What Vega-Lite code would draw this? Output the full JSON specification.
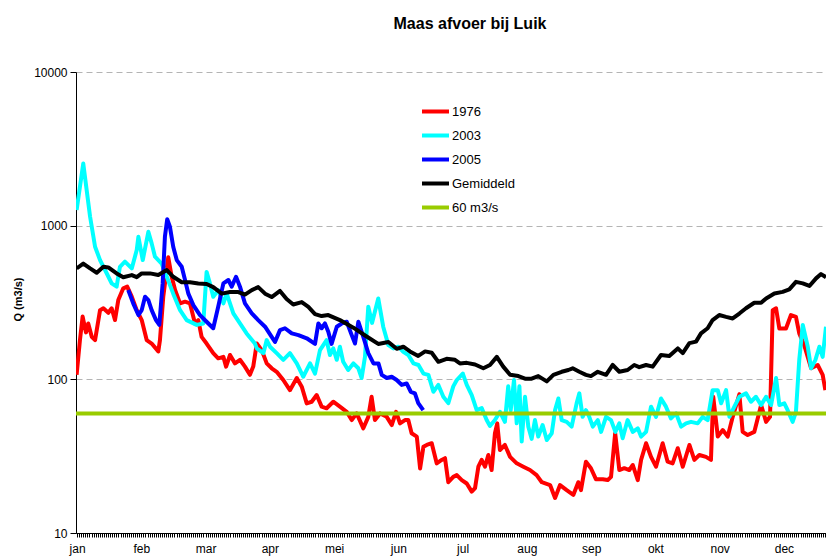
{
  "$schema": "https://vega.github.io/schema/vega-lite/v6.json",
  "autosize": {"type": "none"},
  "width": 750,
  "height": 461,
  "padding": {"left": 76, "top": 72, "right": 0, "bottom": 26},
  "background": "white",
  "title": {"text": "Maas afvoer bij Luik", "anchor": "middle", "frame": "group", "dx": 19, "offset": 34, "fontSize": 16, "fontWeight": "bold", "font": "Liberation Sans", "color": "black"},
  "config": {
    "view": {"stroke": null},
    "font": "Liberation Sans"
  },
  "datasets": {
    "rows": [
      {"serie":"1976","dag":0.8,"Q":107},{"serie":"1976","dag":2.4,"Q":180},{"serie":"1976","dag":3.7,"Q":256},{"serie":"1976","dag":5.3,"Q":202},{"serie":"1976","dag":6.4,"Q":231},{"serie":"1976","dag":8.1,"Q":189},{"serie":"1976","dag":9.7,"Q":180},{"serie":"1976","dag":12.1,"Q":282},{"serie":"1976","dag":13.7,"Q":290},{"serie":"1976","dag":16.1,"Q":271},{"serie":"1976","dag":17.7,"Q":290},{"serie":"1976","dag":19.3,"Q":243},{"serie":"1976","dag":20.9,"Q":328},{"serie":"1976","dag":23.3,"Q":391},{"serie":"1976","dag":25.2,"Q":401},{"serie":"1976","dag":27.4,"Q":345},{"serie":"1976","dag":29.8,"Q":282},{"serie":"1976","dag":32.2,"Q":243},{"serie":"1976","dag":34.6,"Q":180},{"serie":"1976","dag":37.0,"Q":171},{"serie":"1976","dag":40.2,"Q":152},{"serie":"1976","dag":41.0,"Q":180},{"serie":"1976","dag":42.6,"Q":345},{"serie":"1976","dag":45.0,"Q":622},{"serie":"1976","dag":46.7,"Q":463},{"serie":"1976","dag":48.3,"Q":381},{"serie":"1976","dag":50.7,"Q":312},{"serie":"1976","dag":53.1,"Q":320},{"serie":"1976","dag":55.5,"Q":312},{"serie":"1976","dag":57.9,"Q":231},{"serie":"1976","dag":59.5,"Q":243},{"serie":"1976","dag":61.1,"Q":189},{"serie":"1976","dag":63.5,"Q":171},{"serie":"1976","dag":66.7,"Q":148},{"serie":"1976","dag":69.1,"Q":137},{"serie":"1976","dag":71.6,"Q":140},{"serie":"1976","dag":72.9,"Q":121},{"serie":"1976","dag":74.8,"Q":144},{"serie":"1976","dag":77.2,"Q":127},{"serie":"1976","dag":79.6,"Q":134},{"serie":"1976","dag":82.0,"Q":121},{"serie":"1976","dag":84.4,"Q":107},{"serie":"1976","dag":86.0,"Q":121},{"serie":"1976","dag":87.7,"Q":171},{"serie":"1976","dag":90.1,"Q":155},{"serie":"1976","dag":92.5,"Q":127},{"serie":"1976","dag":94.9,"Q":118},{"serie":"1976","dag":97.3,"Q":112},{"serie":"1976","dag":100.5,"Q":99},{"serie":"1976","dag":103.7,"Q":85},{"serie":"1976","dag":107.0,"Q":102},{"serie":"1976","dag":109.4,"Q":89.6},{"serie":"1976","dag":111.8,"Q":69.8},{"serie":"1976","dag":114.2,"Q":71.5},{"serie":"1976","dag":116.6,"Q":79},{"serie":"1976","dag":119.0,"Q":66.4},{"serie":"1976","dag":121.4,"Q":64.8},{"serie":"1976","dag":124.6,"Q":71.5},{"serie":"1976","dag":127.8,"Q":66.4},{"serie":"1976","dag":131.1,"Q":61.5},{"serie":"1976","dag":133.5,"Q":54.3},{"serie":"1976","dag":135.9,"Q":60},{"serie":"1976","dag":139.1,"Q":48},{"serie":"1976","dag":141.5,"Q":57},{"serie":"1976","dag":143.1,"Q":77},{"serie":"1976","dag":144.7,"Q":54.3},{"serie":"1976","dag":147.2,"Q":60},{"serie":"1976","dag":150.4,"Q":57},{"serie":"1976","dag":152.8,"Q":50.4},{"serie":"1976","dag":154.9,"Q":61.5},{"serie":"1976","dag":156.8,"Q":51.7},{"serie":"1976","dag":159.2,"Q":54.3},{"serie":"1976","dag":160.8,"Q":54.3},{"serie":"1976","dag":162.4,"Q":44.6},{"serie":"1976","dag":164.9,"Q":42.4},{"serie":"1976","dag":166.5,"Q":26.3},{"serie":"1976","dag":168.1,"Q":36.4},{"serie":"1976","dag":169.7,"Q":37.4},{"serie":"1976","dag":172.1,"Q":38.4},{"serie":"1976","dag":174.5,"Q":28.4},{"serie":"1976","dag":176.9,"Q":29.9},{"serie":"1976","dag":178.5,"Q":30.7},{"serie":"1976","dag":180.1,"Q":21.4},{"serie":"1976","dag":182.5,"Q":23.2},{"serie":"1976","dag":184.2,"Q":23.8},{"serie":"1976","dag":186.6,"Q":22.1},{"serie":"1976","dag":189.0,"Q":21.0},{"serie":"1976","dag":191.4,"Q":18.6},{"serie":"1976","dag":193.0,"Q":19.6},{"serie":"1976","dag":194.6,"Q":27},{"serie":"1976","dag":196.2,"Q":29.9},{"serie":"1976","dag":197.8,"Q":27},{"serie":"1976","dag":199.4,"Q":32.2},{"serie":"1976","dag":201.0,"Q":25.7},{"serie":"1976","dag":202.6,"Q":44.6},{"serie":"1976","dag":203.7,"Q":51.7},{"serie":"1976","dag":205.0,"Q":34.7},{"serie":"1976","dag":207.4,"Q":37.4},{"serie":"1976","dag":209.9,"Q":31.3},{"serie":"1976","dag":213.1,"Q":28.4},{"serie":"1976","dag":216.3,"Q":27},{"serie":"1976","dag":219.5,"Q":25.7},{"serie":"1976","dag":222.7,"Q":23.8},{"serie":"1976","dag":225.2,"Q":21.4},{"serie":"1976","dag":229.2,"Q":20.5},{"serie":"1976","dag":231.6,"Q":16.9},{"serie":"1976","dag":234.0,"Q":20.5},{"serie":"1976","dag":237.2,"Q":19.0},{"serie":"1976","dag":240.4,"Q":17.7},{"serie":"1976","dag":242.8,"Q":21.4},{"serie":"1976","dag":244.1,"Q":19.0},{"serie":"1976","dag":246.5,"Q":29.1},{"serie":"1976","dag":248.9,"Q":26.4},{"serie":"1976","dag":251.3,"Q":22.4},{"serie":"1976","dag":254.6,"Q":22.4},{"serie":"1976","dag":257.0,"Q":22.1},{"serie":"1976","dag":258.6,"Q":23.2},{"serie":"1976","dag":260.6,"Q":44.6},{"serie":"1976","dag":262.6,"Q":25.7},{"serie":"1976","dag":265.0,"Q":26.4},{"serie":"1976","dag":267.4,"Q":25.7},{"serie":"1976","dag":269.1,"Q":27.7},{"serie":"1976","dag":271.5,"Q":22.1},{"serie":"1976","dag":273.1,"Q":29.9},{"serie":"1976","dag":275.5,"Q":38.4},{"serie":"1976","dag":277.9,"Q":31.3},{"serie":"1976","dag":280.3,"Q":27},{"serie":"1976","dag":283.5,"Q":38.4},{"serie":"1976","dag":285.9,"Q":29.1},{"serie":"1976","dag":288.3,"Q":28.4},{"serie":"1976","dag":290.8,"Q":35.6},{"serie":"1976","dag":293.2,"Q":27},{"serie":"1976","dag":296.4,"Q":37.4},{"serie":"1976","dag":298.8,"Q":29.9},{"serie":"1976","dag":301.2,"Q":32.2},{"serie":"1976","dag":304.4,"Q":31.3},{"serie":"1976","dag":306.8,"Q":29.9},{"serie":"1976","dag":307.9,"Q":77},{"serie":"1976","dag":310.1,"Q":42.4},{"serie":"1976","dag":312.5,"Q":46.8},{"serie":"1976","dag":314.9,"Q":42.4},{"serie":"1976","dag":317.3,"Q":57},{"serie":"1976","dag":320.5,"Q":80},{"serie":"1976","dag":322.1,"Q":45.5},{"serie":"1976","dag":324.5,"Q":43.4},{"serie":"1976","dag":327.7,"Q":45.5},{"serie":"1976","dag":331.0,"Q":68},{"serie":"1976","dag":333.4,"Q":52.9},{"serie":"1976","dag":335.3,"Q":57},{"serie":"1976","dag":336.6,"Q":282},{"serie":"1976","dag":338.2,"Q":290},{"serie":"1976","dag":339.8,"Q":214},{"serie":"1976","dag":343.0,"Q":214},{"serie":"1976","dag":345.4,"Q":262},{"serie":"1976","dag":347.8,"Q":255},{"serie":"1976","dag":349.4,"Q":199},{"serie":"1976","dag":351.8,"Q":167},{"serie":"1976","dag":355.1,"Q":118},{"serie":"1976","dag":358.3,"Q":124},{"serie":"1976","dag":360.7,"Q":107},{"serie":"1976","dag":362.0,"Q":85},

      {"serie":"2003","dag":0.8,"Q":1263},{"serie":"2003","dag":4.0,"Q":2540},{"serie":"2003","dag":7.3,"Q":1143},{"serie":"2003","dag":9.7,"Q":729},{"serie":"2003","dag":12.1,"Q":597},{"serie":"2003","dag":15.3,"Q":490},{"serie":"2003","dag":17.7,"Q":421},{"serie":"2003","dag":20.1,"Q":401},{"serie":"2003","dag":21.7,"Q":540},{"serie":"2003","dag":24.1,"Q":583},{"serie":"2003","dag":27.4,"Q":527},{"serie":"2003","dag":29.8,"Q":694},{"serie":"2003","dag":30.6,"Q":846},{"serie":"2003","dag":32.7,"Q":597},{"serie":"2003","dag":35.4,"Q":912},{"serie":"2003","dag":37.0,"Q":767},{"serie":"2003","dag":38.6,"Q":628},{"serie":"2003","dag":41.8,"Q":567},{"serie":"2003","dag":44.3,"Q":465},{"serie":"2003","dag":47.4,"Q":361},{"serie":"2003","dag":50.7,"Q":282},{"serie":"2003","dag":53.9,"Q":243},{"serie":"2003","dag":58.7,"Q":226},{"serie":"2003","dag":61.9,"Q":231},{"serie":"2003","dag":63.5,"Q":500},{"serie":"2003","dag":65.1,"Q":421},{"serie":"2003","dag":66.7,"Q":345},{"serie":"2003","dag":69.1,"Q":381},{"serie":"2003","dag":71.6,"Q":312},{"serie":"2003","dag":73.2,"Q":361},{"serie":"2003","dag":76.4,"Q":269},{"serie":"2003","dag":79.6,"Q":231},{"serie":"2003","dag":82.8,"Q":199},{"serie":"2003","dag":86.8,"Q":171},{"serie":"2003","dag":87.7,"Q":159},{"serie":"2003","dag":90.9,"Q":148},{"serie":"2003","dag":92.5,"Q":180},{"serie":"2003","dag":94.1,"Q":163},{"serie":"2003","dag":97.3,"Q":148},{"serie":"2003","dag":100.5,"Q":134},{"serie":"2003","dag":103.7,"Q":148},{"serie":"2003","dag":107.0,"Q":127},{"serie":"2003","dag":110.1,"Q":104},{"serie":"2003","dag":113.4,"Q":127},{"serie":"2003","dag":115.8,"Q":109},{"serie":"2003","dag":118.2,"Q":155},{"serie":"2003","dag":121.4,"Q":180},{"serie":"2003","dag":123.0,"Q":144},{"serie":"2003","dag":124.6,"Q":159},{"serie":"2003","dag":126.3,"Q":134},{"serie":"2003","dag":127.8,"Q":163},{"serie":"2003","dag":129.4,"Q":130},{"serie":"2003","dag":131.8,"Q":115},{"serie":"2003","dag":134.3,"Q":127},{"serie":"2003","dag":136.7,"Q":118},{"serie":"2003","dag":138.3,"Q":102},{"serie":"2003","dag":139.9,"Q":140},{"serie":"2003","dag":141.5,"Q":297},{"serie":"2003","dag":143.3,"Q":233},{"serie":"2003","dag":146.3,"Q":336},{"serie":"2003","dag":148.7,"Q":220},{"serie":"2003","dag":151.2,"Q":167},{"serie":"2003","dag":153.6,"Q":159},{"serie":"2003","dag":156.0,"Q":163},{"serie":"2003","dag":158.4,"Q":151},{"serie":"2003","dag":160.8,"Q":144},{"serie":"2003","dag":163.3,"Q":127},{"serie":"2003","dag":165.7,"Q":124},{"serie":"2003","dag":168.1,"Q":109},{"serie":"2003","dag":170.5,"Q":107},{"serie":"2003","dag":172.9,"Q":83},{"serie":"2003","dag":175.3,"Q":92},{"serie":"2003","dag":177.7,"Q":77},{"serie":"2003","dag":180.1,"Q":70},{"serie":"2003","dag":182.5,"Q":90},{"serie":"2003","dag":184.2,"Q":99},{"serie":"2003","dag":187.1,"Q":109},{"serie":"2003","dag":189.0,"Q":92},{"serie":"2003","dag":191.4,"Q":79},{"serie":"2003","dag":193.8,"Q":63},{"serie":"2003","dag":196.2,"Q":65},{"serie":"2003","dag":198.6,"Q":54.3},{"serie":"2003","dag":200.2,"Q":49.7},{"serie":"2003","dag":202.6,"Q":54.3},{"serie":"2003","dag":205.0,"Q":61.5},{"serie":"2003","dag":207.4,"Q":52.9},{"serie":"2003","dag":209.0,"Q":90},{"serie":"2003","dag":210.2,"Q":63},{"serie":"2003","dag":211.8,"Q":99},{"serie":"2003","dag":213.1,"Q":51.7},{"serie":"2003","dag":214.4,"Q":90},{"serie":"2003","dag":215.5,"Q":39.4},{"serie":"2003","dag":217.1,"Q":77},{"serie":"2003","dag":218.7,"Q":49.2},{"serie":"2003","dag":220.3,"Q":41.0},{"serie":"2003","dag":221.9,"Q":54.3},{"serie":"2003","dag":223.5,"Q":42.4},{"serie":"2003","dag":225.6,"Q":50.4},{"serie":"2003","dag":227.6,"Q":40.3},{"serie":"2003","dag":230.0,"Q":44.6},{"serie":"2003","dag":231.6,"Q":63},{"serie":"2003","dag":233.2,"Q":75},{"serie":"2003","dag":234.8,"Q":54.3},{"serie":"2003","dag":237.2,"Q":52.9},{"serie":"2003","dag":239.6,"Q":49.2},{"serie":"2003","dag":242.0,"Q":69.8},{"serie":"2003","dag":243.3,"Q":81},{"serie":"2003","dag":244.9,"Q":57},{"serie":"2003","dag":246.5,"Q":63},{"serie":"2003","dag":248.1,"Q":57},{"serie":"2003","dag":249.8,"Q":49.2},{"serie":"2003","dag":252.2,"Q":54.3},{"serie":"2003","dag":253.8,"Q":45.5},{"serie":"2003","dag":256.2,"Q":57},{"serie":"2003","dag":258.6,"Q":54.3},{"serie":"2003","dag":260.7,"Q":45.5},{"serie":"2003","dag":262.6,"Q":51.7},{"serie":"2003","dag":264.2,"Q":41.4},{"serie":"2003","dag":266.6,"Q":54.3},{"serie":"2003","dag":269.1,"Q":45.5},{"serie":"2003","dag":271.5,"Q":48},{"serie":"2003","dag":273.1,"Q":42.4},{"serie":"2003","dag":275.5,"Q":45.5},{"serie":"2003","dag":277.9,"Q":66.4},{"serie":"2003","dag":280.3,"Q":57},{"serie":"2003","dag":282.7,"Q":75},{"serie":"2003","dag":285.1,"Q":66.4},{"serie":"2003","dag":287.5,"Q":55.7},{"serie":"2003","dag":290.0,"Q":60},{"serie":"2003","dag":292.4,"Q":49.2},{"serie":"2003","dag":294.8,"Q":51.7},{"serie":"2003","dag":297.2,"Q":52.9},{"serie":"2003","dag":300.4,"Q":51.7},{"serie":"2003","dag":302.8,"Q":57},{"serie":"2003","dag":305.2,"Q":54.3},{"serie":"2003","dag":307.6,"Q":85},{"serie":"2003","dag":310.1,"Q":85},{"serie":"2003","dag":311.7,"Q":69.8},{"serie":"2003","dag":314.1,"Q":85},{"serie":"2003","dag":315.7,"Q":57},{"serie":"2003","dag":318.1,"Q":66.4},{"serie":"2003","dag":320.5,"Q":77},{"serie":"2003","dag":323.7,"Q":81},{"serie":"2003","dag":326.1,"Q":71.5},{"serie":"2003","dag":328.5,"Q":77},{"serie":"2003","dag":331.0,"Q":68},{"serie":"2003","dag":333.4,"Q":77},{"serie":"2003","dag":335.8,"Q":68},{"serie":"2003","dag":338.2,"Q":102},{"serie":"2003","dag":339.8,"Q":68},{"serie":"2003","dag":342.2,"Q":69.8},{"serie":"2003","dag":343.8,"Q":63},{"serie":"2003","dag":346.2,"Q":52.9},{"serie":"2003","dag":347.8,"Q":61.5},{"serie":"2003","dag":349.4,"Q":134},{"serie":"2003","dag":351.1,"Q":226},{"serie":"2003","dag":353.5,"Q":163},{"serie":"2003","dag":355.1,"Q":118},{"serie":"2003","dag":357.2,"Q":134},{"serie":"2003","dag":359.1,"Q":163},{"serie":"2003","dag":360.7,"Q":140},{"serie":"2003","dag":362.3,"Q":220},

      {"serie":"2005","dag":25.7,"Q":381},{"serie":"2005","dag":28.1,"Q":312},{"serie":"2005","dag":30.6,"Q":262},{"serie":"2005","dag":32.2,"Q":282},{"serie":"2005","dag":33.8,"Q":345},{"serie":"2005","dag":35.4,"Q":328},{"serie":"2005","dag":37.0,"Q":282},{"serie":"2005","dag":39.1,"Q":243},{"serie":"2005","dag":40.7,"Q":226},{"serie":"2005","dag":42.3,"Q":421},{"serie":"2005","dag":43.4,"Q":850},{"serie":"2005","dag":44.5,"Q":1102},{"serie":"2005","dag":45.8,"Q":985},{"serie":"2005","dag":47.4,"Q":729},{"serie":"2005","dag":49.1,"Q":597},{"serie":"2005","dag":51.5,"Q":540},{"serie":"2005","dag":53.1,"Q":443},{"serie":"2005","dag":54.7,"Q":361},{"serie":"2005","dag":57.1,"Q":304},{"serie":"2005","dag":60.3,"Q":262},{"serie":"2005","dag":63.5,"Q":237},{"serie":"2005","dag":66.7,"Q":215},{"serie":"2005","dag":69.1,"Q":297},{"serie":"2005","dag":71.6,"Q":421},{"serie":"2005","dag":74.0,"Q":443},{"serie":"2005","dag":75.6,"Q":401},{"serie":"2005","dag":77.7,"Q":465},{"serie":"2005","dag":79.6,"Q":401},{"serie":"2005","dag":82.0,"Q":312},{"serie":"2005","dag":85.3,"Q":269},{"serie":"2005","dag":88.4,"Q":243},{"serie":"2005","dag":91.7,"Q":220},{"serie":"2005","dag":94.9,"Q":189},{"serie":"2005","dag":96.5,"Q":175},{"serie":"2005","dag":98.9,"Q":209},{"serie":"2005","dag":101.3,"Q":215},{"serie":"2005","dag":104.6,"Q":199},{"serie":"2005","dag":107.8,"Q":194},{"serie":"2005","dag":111.8,"Q":185},{"serie":"2005","dag":115.8,"Q":170},{"serie":"2005","dag":117.4,"Q":231},{"serie":"2005","dag":119.0,"Q":215},{"serie":"2005","dag":120.6,"Q":231},{"serie":"2005","dag":122.2,"Q":204},{"serie":"2005","dag":123.8,"Q":170},{"serie":"2005","dag":126.3,"Q":220},{"serie":"2005","dag":128.7,"Q":231},{"serie":"2005","dag":131.1,"Q":237},{"serie":"2005","dag":133.5,"Q":194},{"serie":"2005","dag":135.1,"Q":171},{"serie":"2005","dag":136.7,"Q":237},{"serie":"2005","dag":139.1,"Q":189},{"serie":"2005","dag":141.5,"Q":148},{"serie":"2005","dag":144.0,"Q":127},{"serie":"2005","dag":146.4,"Q":127},{"serie":"2005","dag":148.0,"Q":107},{"serie":"2005","dag":150.4,"Q":102},{"serie":"2005","dag":152.8,"Q":104},{"serie":"2005","dag":155.2,"Q":99},{"serie":"2005","dag":157.6,"Q":92},{"serie":"2005","dag":160.0,"Q":94},{"serie":"2005","dag":162.0,"Q":83},{"serie":"2005","dag":164.0,"Q":81},{"serie":"2005","dag":165.6,"Q":70},{"serie":"2005","dag":168.0,"Q":63},

      {"serie":"Gemiddeld","dag":0.8,"Q":527},{"serie":"Gemiddeld","dag":4.0,"Q":567},{"serie":"Gemiddeld","dag":7.3,"Q":527},{"serie":"Gemiddeld","dag":10.5,"Q":494},{"serie":"Gemiddeld","dag":13.7,"Q":540},{"serie":"Gemiddeld","dag":16.1,"Q":535},{"serie":"Gemiddeld","dag":20.1,"Q":489},{"serie":"Gemiddeld","dag":23.3,"Q":462},{"serie":"Gemiddeld","dag":27.4,"Q":477},{"serie":"Gemiddeld","dag":29.8,"Q":462},{"serie":"Gemiddeld","dag":32.2,"Q":489},{"serie":"Gemiddeld","dag":36.2,"Q":489},{"serie":"Gemiddeld","dag":40.2,"Q":477},{"serie":"Gemiddeld","dag":44.3,"Q":514},{"serie":"Gemiddeld","dag":47.4,"Q":465},{"serie":"Gemiddeld","dag":51.5,"Q":428},{"serie":"Gemiddeld","dag":55.5,"Q":428},{"serie":"Gemiddeld","dag":59.5,"Q":421},{"serie":"Gemiddeld","dag":63.5,"Q":417},{"serie":"Gemiddeld","dag":66.7,"Q":398},{"serie":"Gemiddeld","dag":70.8,"Q":361},{"serie":"Gemiddeld","dag":74.8,"Q":370},{"serie":"Gemiddeld","dag":78.8,"Q":370},{"serie":"Gemiddeld","dag":82.0,"Q":356},{"serie":"Gemiddeld","dag":85.3,"Q":381},{"serie":"Gemiddeld","dag":88.4,"Q":398},{"serie":"Gemiddeld","dag":91.7,"Q":361},{"serie":"Gemiddeld","dag":94.9,"Q":343},{"serie":"Gemiddeld","dag":98.9,"Q":376},{"serie":"Gemiddeld","dag":102.1,"Q":333},{"serie":"Gemiddeld","dag":105.3,"Q":307},{"serie":"Gemiddeld","dag":109.4,"Q":318},{"serie":"Gemiddeld","dag":112.6,"Q":296},{"serie":"Gemiddeld","dag":115.8,"Q":266},{"serie":"Gemiddeld","dag":119.0,"Q":258},{"serie":"Gemiddeld","dag":122.2,"Q":262},{"serie":"Gemiddeld","dag":127.8,"Q":243},{"serie":"Gemiddeld","dag":134.3,"Q":217},{"serie":"Gemiddeld","dag":140.7,"Q":190},{"serie":"Gemiddeld","dag":146.3,"Q":170},{"serie":"Gemiddeld","dag":151.2,"Q":175},{"serie":"Gemiddeld","dag":155.2,"Q":158},{"serie":"Gemiddeld","dag":158.4,"Q":163},{"serie":"Gemiddeld","dag":161.6,"Q":152},{"serie":"Gemiddeld","dag":165.6,"Q":142},{"serie":"Gemiddeld","dag":168.9,"Q":152},{"serie":"Gemiddeld","dag":172.1,"Q":149},{"serie":"Gemiddeld","dag":175.3,"Q":130},{"serie":"Gemiddeld","dag":179.3,"Q":136},{"serie":"Gemiddeld","dag":183.3,"Q":134},{"serie":"Gemiddeld","dag":185.7,"Q":127},{"serie":"Gemiddeld","dag":189.0,"Q":128},{"serie":"Gemiddeld","dag":193.0,"Q":125},{"serie":"Gemiddeld","dag":197.0,"Q":118},{"serie":"Gemiddeld","dag":200.2,"Q":124},{"serie":"Gemiddeld","dag":203.5,"Q":140},{"serie":"Gemiddeld","dag":206.6,"Q":121},{"serie":"Gemiddeld","dag":209.9,"Q":107},{"serie":"Gemiddeld","dag":213.9,"Q":105},{"serie":"Gemiddeld","dag":217.1,"Q":101},{"serie":"Gemiddeld","dag":220.3,"Q":101},{"serie":"Gemiddeld","dag":223.5,"Q":105},{"serie":"Gemiddeld","dag":227.6,"Q":97},{"serie":"Gemiddeld","dag":230.8,"Q":107},{"serie":"Gemiddeld","dag":234.8,"Q":112},{"serie":"Gemiddeld","dag":238.0,"Q":115},{"serie":"Gemiddeld","dag":240.1,"Q":118},{"serie":"Gemiddeld","dag":243.3,"Q":112},{"serie":"Gemiddeld","dag":246.5,"Q":107},{"serie":"Gemiddeld","dag":248.9,"Q":105},{"serie":"Gemiddeld","dag":252.2,"Q":112},{"serie":"Gemiddeld","dag":256.2,"Q":107},{"serie":"Gemiddeld","dag":259.4,"Q":124},{"serie":"Gemiddeld","dag":262.6,"Q":112},{"serie":"Gemiddeld","dag":266.6,"Q":115},{"serie":"Gemiddeld","dag":269.8,"Q":124},{"serie":"Gemiddeld","dag":272.2,"Q":120},{"serie":"Gemiddeld","dag":275.5,"Q":124},{"serie":"Gemiddeld","dag":278.7,"Q":121},{"serie":"Gemiddeld","dag":282.7,"Q":144},{"serie":"Gemiddeld","dag":286.7,"Q":142},{"serie":"Gemiddeld","dag":290.8,"Q":159},{"serie":"Gemiddeld","dag":293.2,"Q":148},{"serie":"Gemiddeld","dag":296.4,"Q":172},{"serie":"Gemiddeld","dag":299.6,"Q":176},{"serie":"Gemiddeld","dag":302.0,"Q":199},{"serie":"Gemiddeld","dag":305.2,"Q":215},{"serie":"Gemiddeld","dag":307.6,"Q":243},{"serie":"Gemiddeld","dag":310.8,"Q":262},{"serie":"Gemiddeld","dag":314.1,"Q":255},{"serie":"Gemiddeld","dag":317.3,"Q":249},{"serie":"Gemiddeld","dag":320.5,"Q":268},{"serie":"Gemiddeld","dag":323.7,"Q":290},{"serie":"Gemiddeld","dag":327.7,"Q":315},{"serie":"Gemiddeld","dag":331.0,"Q":315},{"serie":"Gemiddeld","dag":333.4,"Q":336},{"serie":"Gemiddeld","dag":337.4,"Q":362},{"serie":"Gemiddeld","dag":341.4,"Q":371},{"serie":"Gemiddeld","dag":344.6,"Q":385},{"serie":"Gemiddeld","dag":347.8,"Q":431},{"serie":"Gemiddeld","dag":351.1,"Q":421},{"serie":"Gemiddeld","dag":354.3,"Q":405},{"serie":"Gemiddeld","dag":357.5,"Q":454},{"serie":"Gemiddeld","dag":359.9,"Q":484},{"serie":"Gemiddeld","dag":362.3,"Q":462},

      {"serie":"60 m3/s","dag":0.5,"Q":60},{"serie":"60 m3/s","dag":365,"Q":60}
    ]
  },
  "data": {"name": "rows"},
  "mark": {"type": "line", "clip": true, "strokeWidth": 4, "strokeJoin": "round", "strokeCap": "butt"},
  "encoding": {
    "x": {
      "field": "dag", "type": "quantitative",
      "scale": {"domain": [0.5, 362.3], "nice": false, "zero": false},
      "axis": {
        "title": null, "grid": false, "tickCount": 362, "labelOverlap": false, "labelFlush": false, "labelBound": false,
        "labelExpr": "(datum.value - 1) % 31 == 0 ? ['jan','feb','mar','apr','mei','jun','jul','aug','sep','okt','nov','dec'][(datum.value - 1) / 31] : ''",
        "domainColor": "black", "domainWidth": 1, "tickColor": "black", "tickSize": 4, "tickWidth": 1,
        "labelFont": "Liberation Sans", "labelFontSize": 12, "labelColor": "black", "labelPadding": 6
      }
    },
    "y": {
      "field": "Q", "type": "quantitative",
      "scale": {"type": "log", "domain": [10, 10000], "nice": false},
      "axis": {
        "values": [10, 100, 1000, 10000], "format": "d",
        "title": "Q (m3/s)", "titleFont": "Liberation Sans", "titleFontSize": 11, "titleFontWeight": "bold", "titleColor": "black",
        "titleAngle": -90, "titleX": -58, "titleY": 227, "titleAlign": "center", "titleBaseline": "middle",
        "grid": true, "gridColor": "#b4b4b4", "gridDash": [6, 4], "gridWidth": 1,
        "domainColor": "black", "tickColor": "black", "tickSize": 6,
        "labelFont": "Liberation Sans", "labelFontSize": 12, "labelColor": "black", "labelPadding": 3
      }
    },
    "color": {
      "field": "serie", "type": "nominal",
      "scale": {"domain": ["1976", "2003", "2005", "Gemiddeld", "60 m3/s"], "range": ["#FF0000", "#00FFFF", "#0000FF", "#000000", "#99CC00"]},
      "legend": {
        "title": null, "orient": "none", "legendX": 344, "legendY": 24,
        "symbolType": "stroke", "symbolSize": 729, "symbolStrokeWidth": 4,
        "labelFont": "Liberation Sans", "labelFontSize": 13, "labelColor": "black", "labelOffset": 1,
        "rowPadding": -3
      }
    }
  }
}
